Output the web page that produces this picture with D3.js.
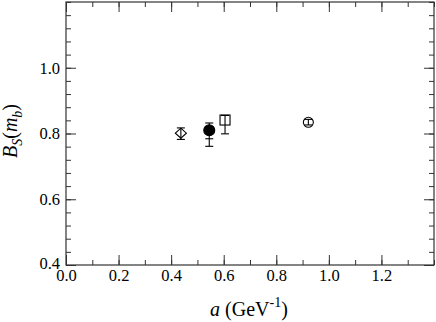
<!DOCTYPE html>
<html><head><meta charset="utf-8">
<script src="https://cdn.jsdelivr.net/npm/d3@7"></script>
<style>body{margin:0;background:#fff}svg{display:block}</style>
</head><body>
<script>
const xTicks = [0.0, 0.2, 0.4, 0.6, 0.8, 1.0, 1.2];
const yTicks = [0.4, 0.6, 0.8, 1.0];
// points: a, value, upper, lower, inner lower cap (for filled circle)
const pointA = [0.437, 0.545, 0.605, 0.922];
const pointB = [0.801, 0.810, 0.841, 0.834];
const pointHi = [0.817, 0.832, 0.855, 0.843];
const pointLo = [0.782, 0.761, 0.799, 0.826];
const pointMid = [null, 0.784, null, null];
const pointShape = ["diamond", "filled", "square", "circle"];

const FONT = "'Liberation Serif', 'Times New Roman', Times, serif";
const W = 436, H = 322;
const m = {l: 66, r: 2, t: 2, b: 57};
const svg = d3.select("body").append("svg").attr("width", W).attr("height", H);
const x = d3.scaleLinear().domain([0, 1.4]).range([m.l, W - m.r]);
const y = d3.scaleLinear().domain([0.4, 1.2]).range([H - m.b, m.t]);

const g = svg.append("g");
const col = "#333";
const xMinor = d3.range(0, 1.4001, 0.1);
const yMinor = d3.range(0.4, 1.2001, 0.04);
g.append("g").attr("transform", `translate(0,${H - m.b})`).call(d3.axisBottom(x).tickValues(xMinor).tickSize(-5).tickFormat(""));
g.append("g").attr("transform", `translate(0,${m.t})`).call(d3.axisTop(x).tickValues(xMinor).tickSize(-5).tickFormat(""));
g.append("g").attr("transform", `translate(${m.l},0)`).call(d3.axisLeft(y).tickValues(yMinor).tickSize(-5).tickFormat(""));
g.append("g").attr("transform", `translate(${W - m.r},0)`).call(d3.axisRight(y).tickValues(yMinor).tickSize(-5).tickFormat(""));
g.append("g").attr("transform", `translate(0,${H - m.b})`)
  .call(d3.axisBottom(x).tickValues(xTicks).tickSize(-10).tickFormat(d3.format(".1f")).tickPadding(4))
  .selectAll("text").attr("dy", "0.75em");
g.append("g").attr("transform", `translate(0,${m.t})`)
  .call(d3.axisTop(x).tickValues(xTicks).tickSize(-10).tickFormat(""));
g.append("g").attr("transform", `translate(${m.l},0)`)
  .call(d3.axisLeft(y).tickValues(yTicks).tickSize(-10).tickFormat(d3.format(".1f")).tickPadding(6))
  .selectAll("text").attr("dy", d => d === 0.4 ? "0.2em" : "0.32em");
g.append("g").attr("transform", `translate(${W - m.r},0)`)
  .call(d3.axisRight(y).tickValues(yTicks).tickSize(-10).tickFormat(""));
svg.selectAll(".domain").remove();
svg.selectAll(".tick line").attr("stroke", col).attr("stroke-width", 1);
svg.selectAll(".tick text").style("font-family", FONT).style("font-size", "16.5px").attr("fill", "#000");
svg.append("rect").attr("x", m.l).attr("y", m.t).attr("width", W - m.r - m.l).attr("height", H - m.b - m.t)
  .attr("fill", "none").attr("stroke", col).attr("stroke-width", 1.2);

const pts = pointA.map((a, i) => ({a, v: pointB[i], hi: pointHi[i], lo: pointLo[i], mid: pointMid[i], s: pointShape[i]}));
const pg = svg.append("g").attr("stroke", "#000").attr("stroke-width", 1.1);
pts.forEach(p => {
  const cx = x(p.a), cy = y(p.v);
  pg.append("line").attr("x1", cx).attr("x2", cx).attr("y1", y(p.hi)).attr("y2", y(p.lo));
  [p.hi, p.lo, p.mid].filter(v => v != null).forEach(v => {
    pg.append("line").attr("x1", cx - 4).attr("x2", cx + 4).attr("y1", y(v)).attr("y2", y(v));
  });
  if (p.s === "filled") {
    pg.append("circle").attr("cx", cx).attr("cy", cy).attr("r", 5.5).attr("fill", "#000");
  } else if (p.s === "circle") {
    pg.append("circle").attr("cx", cx).attr("cy", cy).attr("r", 5).attr("fill", "none");
  } else if (p.s === "square") {
    pg.append("rect").attr("x", cx - 5).attr("y", cy - 5).attr("width", 10).attr("height", 10).attr("fill", "none");
  } else if (p.s === "diamond") {
    pg.append("path").attr("d", `M${cx - 5.5},${cy} L${cx},${cy - 5} L${cx + 5.5},${cy} L${cx},${cy + 5} Z`).attr("fill", "none");
  }
});

const xt = svg.append("text").attr("x", 249).attr("y", 316).attr("text-anchor", "middle")
  .style("font-family", FONT).style("font-size", "20px");
xt.append("tspan").attr("font-style", "italic").text("a");
xt.append("tspan").text(" (GeV");
xt.append("tspan").style("font-size", "14px").attr("dy", -9).text("-1");
xt.append("tspan").attr("dy", 9).text(")");

const yt = svg.append("text").attr("transform", "translate(17,131) rotate(-90)").attr("text-anchor", "middle")
  .style("font-family", FONT).style("font-size", "20px");
yt.append("tspan").attr("font-style", "italic").text("B");
yt.append("tspan").attr("font-style", "italic").style("font-size", "14px").attr("dy", 5).text("S");
yt.append("tspan").attr("dy", -5).text("(");
yt.append("tspan").attr("font-style", "italic").text("m");
yt.append("tspan").attr("font-style", "italic").style("font-size", "14px").attr("dy", 5).text("b");
yt.append("tspan").attr("dy", -5).text(")");
</script>
</body></html>
